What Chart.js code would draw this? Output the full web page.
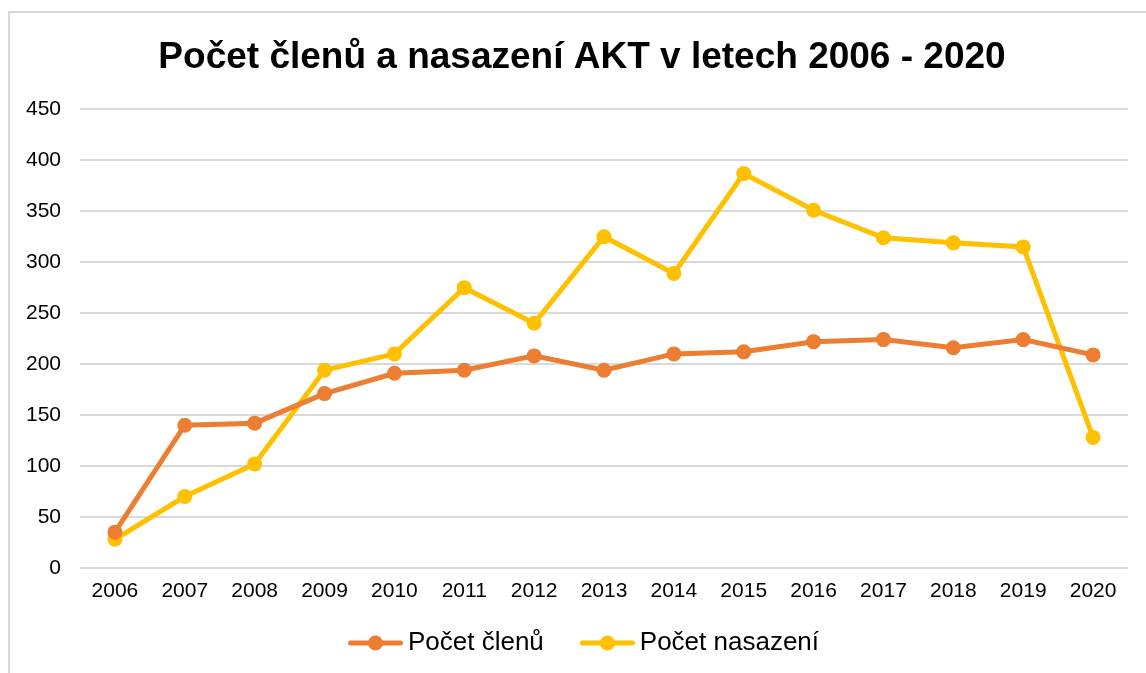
<!DOCTYPE html>
<html>
<head>
<meta charset="utf-8">
<script src="https://cdn.jsdelivr.net/npm/chart.js@4"></script>
<style>
  html, body { margin: 0; background: #fff; overflow: hidden; width: 1146px; height: 673px; }
  #frame { position: absolute; left: 8px; top: 11px; width: 1200px; height: 700px; border: 2px solid #d9d9d9; }
  #chart { position: absolute; left: 0; top: 0; }
</style>
</head>
<body>
<div id="frame"></div>
<canvas id="chart" width="1146" height="666"></canvas>
<script>
// data
const years = ['2006', '2007', '2008', '2009', '2010', '2011', '2012', '2013', '2014', '2015', '2016', '2017', '2018', '2019', '2020'];
const clenove = [35, 140, 142, 171, 191, 194, 208, 194, 210, 212, 222, 224, 216, 224, 209];
const nasazeni = [28, 70, 102, 194, 210, 275, 240, 325, 289, 387, 351, 324, 319, 315, 128];
const yTicks = [0, 50, 100, 150, 200, 250, 300, 350, 400, 450];

const ORANGE = '#ED7D31';
const GOLD = '#FFC000';
const FONT = '"Liberation Sans", Arial, sans-serif';

// legend marker: short line with a dot, overhanging the legend box a bit on the right
function legendMarker(color) {
    const c = document.createElement('canvas');
    c.width = 84; c.height = 18;
    const g = c.getContext('2d');
    g.strokeStyle = color;
    g.lineWidth = 5;
    g.lineCap = 'round';
    g.beginPath(); g.moveTo(31.5, 9); g.lineTo(81.5, 9); g.stroke();
    g.fillStyle = color;
    g.beginPath(); g.arc(56.5, 9, 7.5, 0, Math.PI * 2); g.fill();
    return c;
}

function series(label, data, color) {
    return {
        label: label,
        data: data,
        borderColor: color,
        backgroundColor: color,
        borderWidth: 5,
        pointRadius: 7.5,
        pointHoverRadius: 7.5,
        pointBorderWidth: 0,
        pointStyle: 'circle',
        tension: 0
    };
}

// nudge title and legend sideways to where the reference has them
const nudge = {
    id: 'nudge',
    afterLayout(chart) {
        if (chart.titleBlock) { chart.titleBlock.left += 18; chart.titleBlock.right += 18; }
        if (chart.legend) { chart.legend.left += 9; chart.legend.right += 9; }
    }
};

new Chart(document.getElementById('chart'), {
    type: 'line',
    data: {
        labels: years,
        datasets: [
            series('Počet členů', clenove, ORANGE),
            series('Počet nasazení', nasazeni, GOLD)
        ]
    },
    plugins: [nudge],
    options: {
        responsive: false,
        animation: false,
        layout: { padding: { left: 0, right: 18, top: 0, bottom: 0 } },
        plugins: {
            title: {
                display: true,
                text: 'Počet členů a nasazení AKT v letech 2006 - 2020',
                color: '#000',
                font: { family: FONT, size: 37, weight: 'bold' },
                padding: { top: 36, bottom: 29 }
            },
            legend: {
                position: 'bottom',
                labels: {
                    color: '#000',
                    font: { family: FONT, size: 26 },
                    usePointStyle: true,
                    pointStyleWidth: 68,
                    padding: 15,
                    generateLabels: chart => chart.data.datasets.map((ds, i) => ({
                        text: ds.label,
                        fillStyle: ds.borderColor,
                        strokeStyle: ds.borderColor,
                        lineWidth: 0,
                        pointStyle: legendMarker(ds.borderColor),
                        datasetIndex: i,
                        hidden: false,
                        fontColor: '#000'
                    }))
                }
            },
            tooltip: { enabled: false }
        },
        scales: {
            x: {
                offset: true,
                grid: { display: false, drawTicks: false },
                border: { display: false },
                ticks: { color: '#000', font: { family: FONT, size: 21 }, padding: 11, maxRotation: 0 }
            },
            y: {
                min: 0,
                max: 450,
                afterBuildTicks: s => { s.ticks = yTicks.map(v => ({ value: v })); },
                afterFit: s => { s.width = 80; },
                grid: { color: '#d9d9d9', lineWidth: 2, drawTicks: false },
                border: { display: false },
                ticks: { color: '#000', font: { family: FONT, size: 21 }, padding: 19 }
            }
        }
    }
});
</script>
</body>
</html>
